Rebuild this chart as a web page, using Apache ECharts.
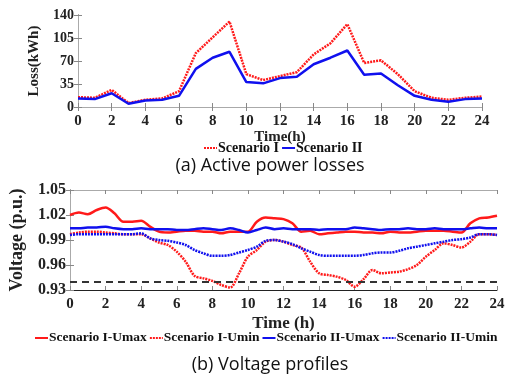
<!DOCTYPE html>
<html>
<head>
<meta charset="utf-8">
<script src="https://cdn.jsdelivr.net/npm/echarts@6/dist/echarts.min.js"></script>
<style>
  html, body { margin: 0; padding: 0; background: #fff; }
  #chart { width: 522px; height: 376px; }
</style>
</head>
<body>
<div id="chart"></div>
<script>
// (a) hourly active power losses, kWh
const hours = [0,1,2,3,4,5,6,7,8,9,10,11,12,13,14,15,16,17,18,19,20,21,22,23,24];
const lossScenario1 = [15,14,26,6,11,13,24,82,106,130,50,41,47,53,80,97,126,67,71,50,24,14,11,14,16];
const lossScenario2 = [13,12,21,5,10,11,17,58,75,84,38,36,44,46,65,75,86,49,51,33,17,11,8,12,13];

// (b) voltage profiles, half-hour samples, p.u.
const halfHours = [0,0.5,1,1.5,2,2.5,3,3.5,4,4.5,5,5.5,6,6.5,7,7.5,8,8.5,9,9.5,10,10.5,11,11.5,12,
  12.5,13,13.5,14,14.5,15,15.5,16,16.5,17,17.5,18,18.5,19,19.5,20,20.5,21,21.5,22,22.5,23,23.5,24];
const s1Umax = [1.020,1.023,1.021,1.026,1.029,1.022,1.012,1.012,1.013,1.006,1.000,0.999,1.000,1.001,1.001,1.000,1.000,0.998,1.000,1.000,1.000,1.012,1.017,1.016,1.015,
  1.010,1.000,1.001,0.997,0.998,0.999,1.000,1.000,0.999,0.999,0.998,1.000,0.999,0.999,1.000,1.001,1.001,1.001,1.000,0.999,1.010,1.016,1.017,1.019];
const s1Umin = [0.997,0.999,1.000,1.000,0.999,0.998,0.997,0.997,0.997,0.992,0.987,0.984,0.976,0.964,0.947,0.944,0.941,0.936,0.933,0.950,0.970,0.978,0.988,0.990,0.988,
  0.984,0.981,0.964,0.950,0.948,0.946,0.942,0.934,0.943,0.954,0.950,0.951,0.952,0.955,0.960,0.970,0.978,0.986,0.984,0.981,0.988,0.997,0.997,0.996];
const s2Umax = [1.004,1.004,1.005,1.005,1.006,1.004,1.003,1.003,1.004,1.003,1.003,1.003,1.002,1.002,1.003,1.004,1.003,1.002,1.004,1.002,0.999,1.002,1.005,1.003,1.004,
  1.003,1.003,1.003,1.002,1.003,1.003,1.003,1.005,1.004,1.003,1.002,1.003,1.003,1.004,1.003,1.003,1.004,1.003,1.003,1.003,1.004,1.005,1.004,1.004];
const s2Umin = [0.996,0.997,0.997,0.997,0.997,0.997,0.997,0.997,0.998,0.992,0.990,0.989,0.987,0.984,0.978,0.974,0.971,0.971,0.972,0.975,0.978,0.982,0.989,0.990,0.988,
  0.985,0.980,0.976,0.972,0.971,0.971,0.971,0.971,0.972,0.974,0.975,0.975,0.977,0.980,0.982,0.984,0.986,0.988,0.990,0.991,0.993,0.997,0.997,0.996];
const voltageLimit = 0.94;

const RED = '#ff1a1a';
const BLUE = '#1010ee';
const serif = 'Liberation Serif';

const pairs = (xs, ys) => xs.map((x, i) => [x, ys[i]]);

function xAxisBase(grid, fontSize) {
  return {
    type: 'value', gridIndex: grid, min: 0, max: 24, interval: 2,
    axisLine: { lineStyle: { color: '#222', width: 1 } },
    axisTick: { inside: true, length: 4, lineStyle: { color: '#888' } },
    axisLabel: { color: '#222', fontFamily: serif, fontWeight: 'bold', fontSize: fontSize, margin: 7 },
    splitLine: { show: false }
  };
}
function mirror(axis, pos) {
  return Object.assign({}, axis, {
    position: pos,
    axisLabel: { show: false },
    name: '',
    axisLine: { show: true, lineStyle: { color: '#aaa', width: 1 } }
  });
}

const xA = Object.assign(xAxisBase(0, 15), {
  name: 'Time(h)', nameLocation: 'middle', nameGap: 17,
  nameTextStyle: { fontFamily: serif, fontWeight: 'bold', fontSize: 15, color: '#222' }
});
const yA = {
  type: 'value', gridIndex: 0, min: 0, max: 140, interval: 35,
  name: 'Loss(kWh)', nameLocation: 'middle', nameGap: 29,
  nameTextStyle: { fontFamily: serif, fontWeight: 'bold', fontSize: 15, color: '#222' },
  axisLine: { show: true, lineStyle: { color: '#222', width: 1 } },
  axisTick: { inside: true, length: 4, lineStyle: { color: '#888' } },
  axisLabel: { color: '#222', fontFamily: serif, fontWeight: 'bold', fontSize: 14, margin: 4 },
  splitLine: { show: false }
};
const xB = Object.assign(xAxisBase(1, 15), {
  name: 'Time (h)', nameLocation: 'middle', nameGap: 25,
  nameTextStyle: { fontFamily: serif, fontWeight: 'bold', fontSize: 17, color: '#222' }
});
const yB = {
  type: 'value', gridIndex: 1, min: 0.93, max: 1.05, interval: 0.03,
  name: 'Voltage (p.u.)', nameLocation: 'middle', nameGap: 44,
  nameTextStyle: { fontFamily: serif, fontWeight: 'bold', fontSize: 18, color: '#222' },
  axisLine: { show: true, lineStyle: { color: '#222', width: 1 } },
  axisTick: { inside: true, length: 4, lineStyle: { color: '#888' } },
  axisLabel: { color: '#222', fontFamily: serif, fontWeight: 'bold', fontSize: 16, margin: 4,
    formatter: v => v.toFixed(2) },
  splitLine: { show: false }
};

const legendText = size => ({ fontFamily: serif, fontWeight: 'bold', fontSize: size, color: '#111', padding: [0, 0, 0, -4] });

const chart = echarts.init(document.getElementById('chart'), null, { renderer: 'canvas' });
chart.setOption({
  animation: false,
  backgroundColor: '#fff',
  grid: [
    { left: 78, right: 40, top: 15, height: 92 },
    { left: 70, right: 25, top: 190, height: 100 }
  ],
  xAxis: [xA, xB, mirror(xA, 'top'), mirror(xB, 'top')],
  yAxis: [yA, yB, mirror(yA, 'right'), mirror(yB, 'right')],
  title: [
    { text: '(a) Active power losses', left: 265, top: 152, textAlign: 'center',
      textStyle: { fontFamily: 'Open Sans', fontWeight: 'normal', fontSize: 18, color: '#111' } },
    { text: '(b) Voltage profiles', left: 265, top: 351, textAlign: 'center',
      textStyle: { fontFamily: 'Open Sans', fontWeight: 'normal', fontSize: 18, color: '#111' } }
  ],
  legend: [
    { data: ['Scenario I', 'Scenario II'], left: 198, top: 136, itemWidth: 13, itemHeight: 8, itemGap: 2,
      itemStyle: { opacity: 0 }, textStyle: legendText(14) },
    { data: ['Scenario I-Umax', 'Scenario I-Umin', 'Scenario II-Umax', 'Scenario II-Umin'],
      left: 34, top: 331, width: 488, padding: 0, itemWidth: 13, itemHeight: 8, itemGap: 2,
      itemStyle: { opacity: 0 }, textStyle: legendText(13.5) }
  ],
  series: [
    { name: 'Scenario I', type: 'line', xAxisIndex: 0, yAxisIndex: 0, symbol: 'none',
      data: pairs(hours, lossScenario1), color: RED,
      lineStyle: { color: RED, width: 2.5, type: [2, 1] } },
    { name: 'Scenario II', type: 'line', xAxisIndex: 0, yAxisIndex: 0, symbol: 'none',
      data: pairs(hours, lossScenario2), color: BLUE,
      lineStyle: { color: BLUE, width: 2.5 } },
    { name: 'Scenario I-Umax', type: 'line', xAxisIndex: 1, yAxisIndex: 1, symbol: 'none', smooth: 0.3,
      data: pairs(halfHours, s1Umax), color: RED,
      lineStyle: { color: RED, width: 2.5 },
      markLine: { silent: true, symbol: 'none', label: { show: false },
        lineStyle: { color: '#333', width: 2, type: [7, 5] },
        data: [{ yAxis: voltageLimit }] } },
    { name: 'Scenario I-Umin', type: 'line', xAxisIndex: 1, yAxisIndex: 1, symbol: 'none', smooth: 0.3,
      data: pairs(halfHours, s1Umin), color: RED,
      lineStyle: { color: RED, width: 2.5, type: [2, 1] } },
    { name: 'Scenario II-Umax', type: 'line', xAxisIndex: 1, yAxisIndex: 1, symbol: 'none', smooth: 0.3,
      data: pairs(halfHours, s2Umax), color: BLUE,
      lineStyle: { color: BLUE, width: 2.5 } },
    { name: 'Scenario II-Umin', type: 'line', xAxisIndex: 1, yAxisIndex: 1, symbol: 'none', smooth: 0.3,
      data: pairs(halfHours, s2Umin), color: BLUE,
      lineStyle: { color: BLUE, width: 2.5, type: [2, 1] } }
  ]
});
</script>
</body>
</html>
